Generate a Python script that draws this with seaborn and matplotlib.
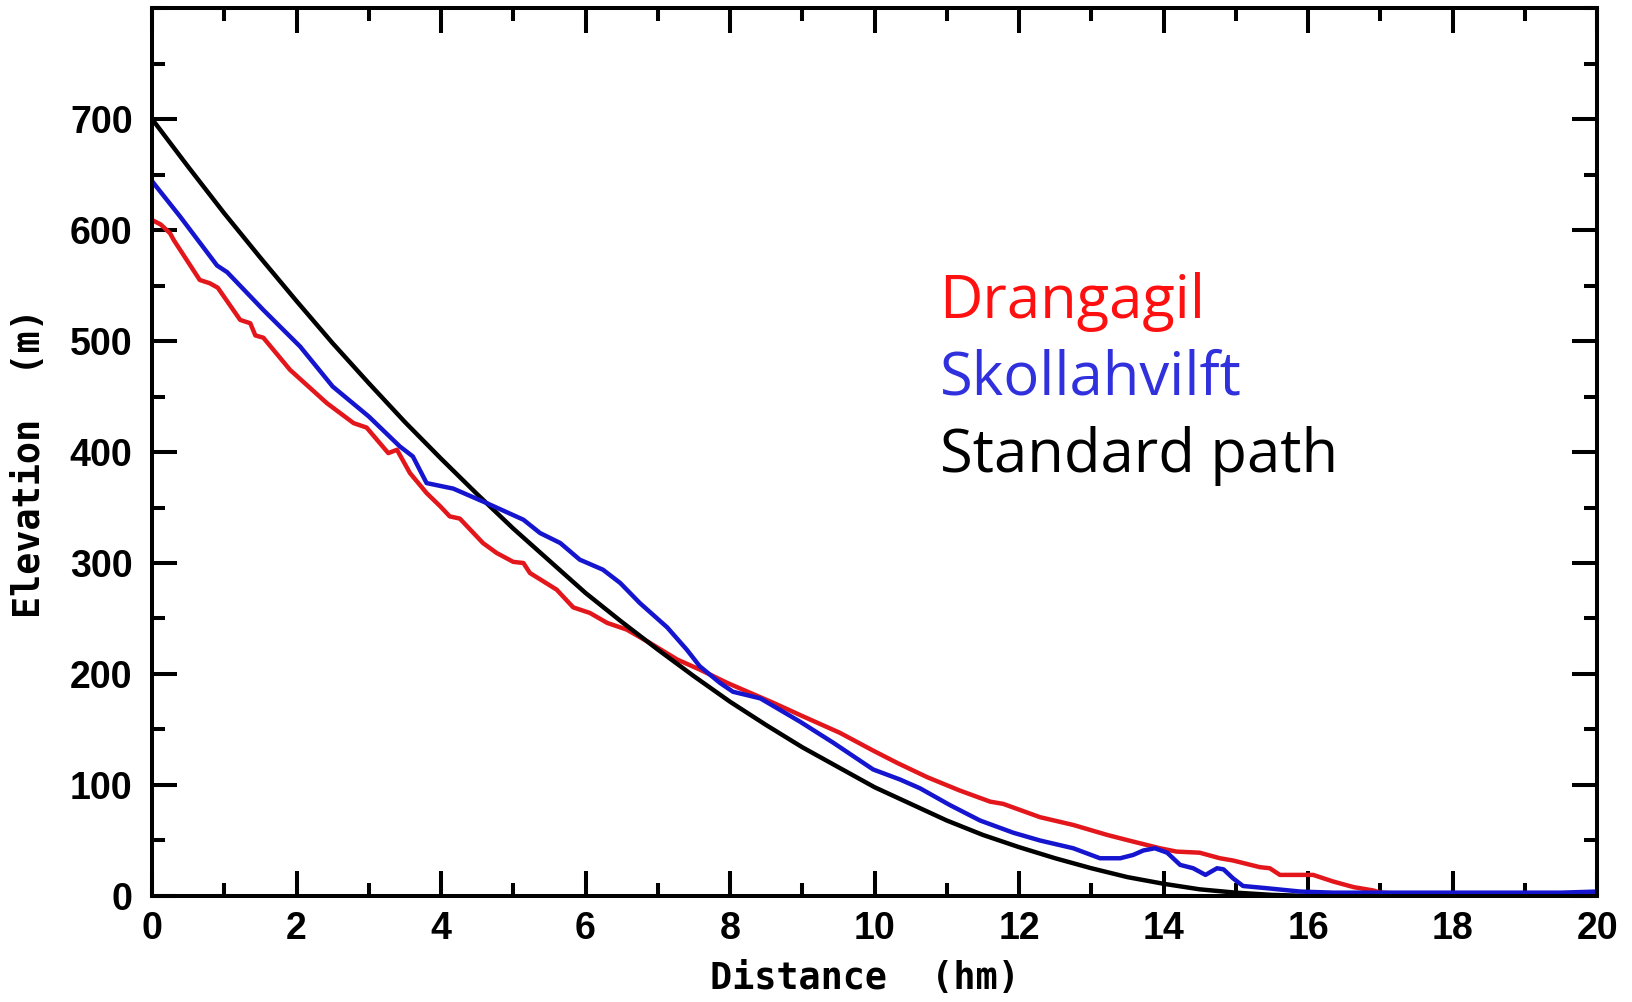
import matplotlib
matplotlib.use("Agg")
import matplotlib.pyplot as plt
import seaborn as sns
import numpy as np
from matplotlib.ticker import MultipleLocator

# ---- data ----
drang_x = [0, 0.12, 0.25, 0.3, 0.66, 0.8, 0.91, 1.22, 1.36, 1.43, 1.54, 1.91, 2.42, 2.79, 2.97,
           3.27, 3.39, 3.57, 3.8, 3.99, 4.12, 4.26, 4.58, 4.77, 5.0, 5.14, 5.23, 5.6, 5.83,
           6.06, 6.3, 6.57, 6.89, 7.27, 7.58, 7.96, 8.28, 8.6, 8.97, 9.52, 9.98, 10.31, 10.73,
           11.18, 11.6, 11.78, 12.29, 12.75, 13.22, 13.58, 13.95, 14.18, 14.5, 14.78, 14.96,
           15.33, 15.47, 15.61, 16.07, 16.35, 16.63, 16.9, 17.0, 17.3, 20]
drang_y = [609, 605, 597, 591, 555, 552, 548, 519, 516, 505, 503, 474, 444, 426, 422,
           399, 402, 381, 363, 351, 342, 340, 318, 309, 301, 300, 291, 276, 260,
           255, 246, 240, 228, 213, 204, 192, 183, 174, 163, 147, 131, 120, 107,
           95, 85, 83, 71, 64, 55, 49, 43, 40, 39, 34, 32,
           26, 25, 19, 19, 13, 8, 5, 3, 2, 2]

skoll_x = [0, 0.39, 0.9, 1.04, 1.54, 2.05, 2.5, 3.0, 3.43, 3.61, 3.8, 4.17, 4.63, 5.14, 5.37,
           5.65, 5.92, 6.24, 6.48, 6.75, 7.13, 7.4, 7.58, 7.86, 8.04, 8.42, 8.97, 9.43, 9.98,
           10.35, 10.63, 11.04, 11.46, 11.92, 12.29, 12.75, 13.12, 13.4, 13.58, 13.72, 13.88,
           14.05, 14.23, 14.41, 14.58, 14.74, 14.83, 14.96, 15.1, 15.43, 15.89, 16.35, 19.5, 20]
skoll_y = [644, 612, 568, 562, 528, 495, 459, 432, 405, 396, 372, 367, 354, 339, 327,
           318, 303, 294, 282, 264, 242, 222, 207, 192, 184, 178, 157, 138, 114,
           105, 97, 82, 68, 57, 50, 43, 34, 34, 37, 41, 43,
           39, 28, 25, 19, 25, 24, 16, 9, 7, 4, 3, 3, 4]

std_x = [0, 0.5, 1, 1.5, 2, 2.5, 3, 3.5, 4, 4.5, 5, 5.5, 6, 6.5, 7, 7.5, 8, 8.5, 9, 9.5,
         10, 10.5, 11, 11.5, 12, 12.5, 13, 13.5, 14, 14.5, 15, 15.5, 16, 20]
std_y = [700, 657, 615, 575, 536, 498, 462, 427, 394, 362, 331, 302, 273, 247, 222, 198,
         175, 154, 134, 116, 98, 83, 68, 55, 44, 34, 25, 17, 11, 6, 3, 1, 0, 0]

legend_labels = ["Drangagil", "Skollahvilft", "Standard path"]
legend_colors = ["#ff1010", "#3030dd", "#000000"]
xticks = list(range(0, 21, 2))
yticks = list(range(0, 701, 100))

# ---- style ----
sns.set_style("ticks", {"text.color": "black", "axes.labelcolor": "black",
                        "xtick.color": "black", "ytick.color": "black"})
plt.rcParams["font.family"] = ["Liberation Sans", "DejaVu Sans"]

fig = plt.figure(figsize=(16.33, 10.02), dpi=100)
ax = fig.add_axes([0.0931, 0.1058, 0.978 - 0.0931, 0.992 - 0.1058])

lw = 3.2
sns.lineplot(x=drang_x, y=drang_y, ax=ax, color="#e3161c", lw=lw, estimator=None, sort=False)
sns.lineplot(x=std_x, y=std_y, ax=ax, color="black", lw=lw, estimator=None, sort=False)
sns.lineplot(x=skoll_x, y=skoll_y, ax=ax, color="#1515cf", lw=lw, estimator=None, sort=False)

ax.set_xlim(0, 20)
ax.set_ylim(0, 800)
ax.set_xticks(xticks)
ax.set_yticks(yticks)
ax.xaxis.set_minor_locator(MultipleLocator(1))
ax.yaxis.set_minor_locator(MultipleLocator(50))

for s in ax.spines.values():
    s.set_visible(True)
    s.set_linewidth(2.9)
    s.set_color("black")

ax.tick_params(which="both", direction="in", top=True, right=True, width=2.9, color="black")
ax.tick_params(which="major", length=18)
ax.tick_params(which="minor", length=9.5)
ax.tick_params(axis="y", which="major", pad=14)
ax.tick_params(axis="x", which="major", pad=11)
for lab in ax.get_xticklabels() + ax.get_yticklabels():
    lab.set_fontsize(27)
    lab.set_fontweight("bold")
    lab.set_color("black")
    lab.set_family(["Liberation Sans", "DejaVu Sans"])

ax.set_xlabel("Distance  (hm)", fontsize=26.5, fontweight="bold", color="black",
              family=["DejaVu Sans Mono", "DejaVu Sans"])
ax.set_ylabel("Elevation  (m)", fontsize=26.5, fontweight="bold", color="black",
              family=["DejaVu Sans Mono", "DejaVu Sans"])
ax.xaxis.set_label_coords(0.493, -0.072)
ax.yaxis.set_label_coords(-0.072, 0.487)

# legend as coloured text
ys = [521, 452, 382]
for lab, col, yv in zip(legend_labels, legend_colors, ys):
    ax.text(10.9, yv, lab, color=col, fontsize=43, fontweight="normal",
            family=["Open Sans", "DejaVu Sans"], ha="left", va="baseline")

fig.savefig("out.png", dpi=100)
